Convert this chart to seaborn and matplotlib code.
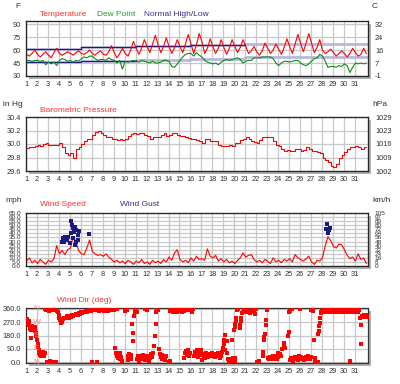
import numpy as np
import pandas as pd
import seaborn as sns
import matplotlib.pyplot as plt
from matplotlib import font_manager
from matplotlib.patches import Rectangle

# === 1. Data ===
days = list(range(1, 32))
day_labels = [str(d) for d in days]
# four readings a day: after midnight, morning low, midday, afternoon high
reading_offsets = [0.05, 0.30, 0.55, 0.80]

temperature_f = [
    55, 53, 56, 60,  55, 52, 55, 58,  54, 51, 57, 62,  56, 54, 56, 58,
    56, 54, 57, 59,  56, 55, 57, 60,  56, 54, 57, 59,  55, 54, 58, 65,
    57, 51, 56, 62,  56, 53, 60, 70,  62, 55, 62, 72,  64, 57, 67, 77,
    66, 57, 64, 74,  64, 56, 63, 72,  64, 57, 67, 78,  67, 56, 66, 79,
    70, 56, 62, 73,  64, 56, 62, 72,  63, 55, 62, 72,  64, 57, 63, 72,
    64, 56, 59, 64,  58, 54, 59, 68,  62, 56, 60, 67,  61, 55, 63, 73,
    64, 56, 67, 78,  68, 58, 68, 79,  68, 57, 63, 72,  60, 56, 58, 61,
    57, 53, 56, 59,  56, 52, 56, 62,  57, 53, 55, 62,  56,
]
dew_point_f = [
    48, 48, 47, 48,  48, 47, 48, 43,  46, 44, 46, 42,  48, 50, 49, 47,
    48, 46, 48, 47,  50, 52, 51, 53,  53, 50, 48, 49,  49, 48, 51, 49,
    48, 45, 48, 38,  47, 46, 47, 48,  47, 46, 48, 47,  46, 45, 47, 45,
    45, 46, 48, 48,  47, 41, 40, 44,  48, 52, 55, 56,  56, 53, 57, 54,
    52, 48, 46, 45,  44, 45, 43, 46,  48, 49, 48, 49,  50, 51, 49, 45,
    47, 48, 48, 51,  51, 51, 52, 52,  52, 52, 50, 45,  42, 45, 47, 47,
    46, 47, 48, 48,  45, 43, 42, 44,  47, 50, 51, 55,  53, 47, 40, 41,
    41, 40, 42, 41,  44, 42, 34, 40,  45, 44, 45, 44,  45,
]
normal_days = [1, 6, 11, 16, 21, 26, 32.2]
normal_high_f = [61, 63, 64.5, 66, 66.5, 66.5, 66.5]
normal_low_f = [46, 47, 48.5, 50, 51.5, 51.5, 51.5]

pressure_inhg = [
    29.94, 29.96, 29.95, 29.97,  29.98, 29.97, 30.00, 30.01,  29.99, 29.98, 29.98, 29.99,
    30.01, 29.96, 29.86, 29.84,  29.86, 29.80, 29.92, 29.96,  30.00, 30.05, 30.08, 30.08,
    30.14, 30.18, 30.20, 30.17,  30.13, 30.10, 30.10, 30.08,  30.08, 30.06, 30.08, 30.06,
    30.08, 30.12, 30.15, 30.16,  30.15, 30.16, 30.16, 30.14,  30.12, 30.08, 30.10, 30.11,
    30.10, 30.14, 30.16, 30.12,  30.13, 30.16, 30.17, 30.13,  30.12, 30.12, 30.10, 30.09,
    30.07, 30.08, 30.06, 30.04,  30.02, 30.08, 30.07, 30.05,  30.05, 30.04, 29.98, 29.97,
    29.97, 29.97, 29.98, 29.97,  30.01, 30.02, 30.06, 30.08,  30.10, 30.07, 30.04, 30.03,
    30.02, 30.06, 30.10, 30.10,  30.11, 30.10, 30.05, 29.98,  29.97, 29.93, 29.90, 29.91,
    29.90, 29.90, 29.93, 29.92,  29.90, 29.91, 29.95, 29.93,  29.90, 29.90, 29.88, 29.87,
    29.80, 29.77, 29.74, 29.67,  29.66, 29.70, 29.80, 29.83,  29.88, 29.92, 29.95, 29.96,
    29.97, 29.95, 29.93, 29.96,  29.96,
]

wind_speed_mph = [
    6, 10, 4, 7,  3, 8, 5, 2,  7, 5, 9, 25,  15, 19, 14, 20,
    22, 36, 30, 19,  15, 14, 22, 32,  18, 15, 13, 14,  12, 15, 11, 8,
    5, 7, 4, 6,  3, 7, 5, 2,  6, 4, 8, 3,  5, 2, 7, 4,
    6, 3, 8, 5,  11, 7, 16, 20,  8, 5, 7, 4,  10, 6, 12, 8,
    9, 7, 21, 12,  10, 13, 6, 9,  5, 8, 4, 6,  3, 7, 10, 16,
    11, 13, 14, 8,  5, 7, 4, 8,  6, 3, 10, 5,  7, 4, 8, 6,
    9, 5, 14, 10,  8, 6, 9, 12,  5, 2, 7, 6,  10, 25, 36, 31,
    24, 22, 27, 26,  20, 13, 9, 11,  6, 15, 8, 10,  3,
]
wind_gusts = [
    (4.3, 30), (4.4, 34), (4.5, 29), (4.6, 35), (4.7, 32), (4.85, 36), (5.0, 28),
    (5.1, 40), (5.15, 55), (5.2, 50), (5.3, 46), (5.3, 34), (5.4, 42), (5.45, 26),
    (5.5, 48), (5.6, 44), (5.6, 30), (5.7, 38), (5.75, 32), (5.8, 43), (6.75, 39),
    (28.4, 45), (28.5, 52), (28.55, 41), (28.6, 44), (28.75, 47),
]

wind_dir_obs = [
    (1.0, 285), (1.05, 270), (1.1, 290), (1.15, 275), (1.2, 265), (1.25, 280), (1.3, 250),
    (1.35, 240), (1.4, 225), (1.45, 235), (1.5, 220), (1.55, 245), (1.6, 230), (1.65, 215),
    (1.7, 235), (1.75, 225), (1.8, 240), (1.85, 210), (1.9, 200), (1.5, 165), (1.95, 175),
    (2.0, 150), (2.05, 120), (2.1, 100), (2.15, 85), (2.2, 60), (2.25, 50), (2.3, 70),
    (2.35, 40), (2.4, 55), (2.45, 65), (2.5, 45), (2.55, 70), (2.6, 50), (2.65, 40), (2.7, 60),
    (2.75, 355), (2.8, 350), (2.9, 358), (3.0, 352), (3.1, 345), (3.2, 355), (3.3, 350),
    (3.4, 358), (3.5, 348), (3.6, 355), (3.7, 350), (3.8, 345), (3.9, 335), (4.0, 320),
    (4.05, 300), (4.1, 285), (4.15, 270), (4.2, 262), (4.25, 270), (4.3, 280), (4.4, 290),
    (4.5, 300), (4.6, 295), (4.7, 310), (4.8, 305), (4.9, 300), (5.0, 310), (5.1, 305),
    (5.2, 315), (5.3, 310), (5.4, 320), (5.5, 315), (5.6, 325), (5.7, 320), (5.8, 330),
    (5.9, 325), (6.0, 335), (6.1, 330), (6.2, 335), (6.3, 340), (6.4, 335), (6.5, 345),
    (6.6, 340), (6.7, 345), (6.8, 350), (6.9, 345), (7.0, 350), (7.1, 355), (7.2, 348),
    (7.3, 352), (7.4, 358), (7.5, 350), (7.6, 355), (7.7, 345), (7.8, 358), (7.9, 350),
    (8.0, 355), (8.1, 345), (8.2, 352), (8.3, 358), (8.4, 350), (8.5, 345), (8.6, 355),
    (8.7, 350), (8.8, 358), (8.9, 352), (9.0, 348), (9.1, 355),
    (2.9, 5), (3.1, 0), (3.2, 8), (3.5, 3), (3.75, 5), (7.0, 3), (7.5, 5),
    (9.15, 95), (9.2, 60), (9.3, 45), (9.35, 30), (9.4, 55), (9.5, 40), (9.55, 20),
    (9.6, 65), (9.7, 35), (9.3, 358), (9.8, 10),
    (10.0, 345), (10.1, 355), (10.2, 350),
    (10.3, 15), (10.35, 40), (10.4, 55), (10.5, 35), (10.55, 20), (10.6, 50),
    (10.7, 255), (10.75, 195), (10.8, 140), (10.85, 310), (10.9, 335), (10.95, 350),
    (11.0, 345), (11.05, 355), (11.1, 340),
    (11.15, 20), (11.2, 40), (11.3, 10), (11.4, 30), (11.5, 45), (11.6, 25), (11.7, 50),
    (11.8, 35), (11.9, 15), (12.0, 40), (12.1, 25), (12.2, 10), (12.3, 30), (12.4, 55),
    (12.5, 35), (12.6, 60), (11.9, 358), (12.0, 350),
    (12.7, 110), (12.8, 175), (12.85, 260), (12.9, 340), (12.95, 355), (13.0, 350), (13.05, 358),
    (13.15, 90), (13.2, 55), (13.3, 35), (13.4, 50), (13.45, 20), (13.5, 45), (13.6, 30),
    (13.7, 15), (13.8, 40), (14.0, 5), (14.1, 10),
    (14.1, 345), (14.2, 350), (14.3, 358), (14.4, 340), (14.5, 352), (14.6, 345), (14.7, 355),
    (14.8, 340), (14.9, 350), (15.0, 345), (15.1, 355), (15.2, 340), (15.3, 350), (15.4, 345),
    (15.5, 355), (15.6, 350),
    (15.4, 30), (15.5, 60), (15.6, 75), (15.7, 50), (15.8, 80), (15.9, 40), (16.0, 65),
    (16.0, 350), (16.1, 340), (16.2, 355),
    (16.3, 45), (16.4, 70), (16.5, 55), (16.6, 80), (16.7, 35), (16.8, 60), (16.9, 75), (17.0, 50),
    (17.0, 85), (17.05, 15), (17.1, 55), (17.2, 40), (17.3, 30), (17.4, 60), (17.5, 45),
    (17.6, 35), (17.7, 55), (17.8, 50), (17.9, 40), (18.0, 60), (18.1, 45), (18.2, 35),
    (18.3, 55), (18.4, 40), (18.5, 60), (18.6, 50), (18.7, 30), (18.8, 45),
    (18.9, 70), (19.0, 95), (19.05, 120), (19.1, 150), (19.15, 185), (19.2, 80), (19.3, 60),
    (19.35, 140), (19.4, 20), (19.5, 5), (19.6, 25), (19.7, 15), (19.8, 150), (19.85, 30),
    (19.9, 10), (20.0, 220), (20.05, 240), (20.1, 255), (20.15, 280), (20.2, 300),
    (20.25, 350), (20.3, 358), (20.05, 10), (20.1, 30),
    (20.5, 230), (20.55, 250), (20.6, 275), (20.65, 300),
    (20.7, 330), (20.8, 340), (20.9, 350), (21.0, 335), (21.1, 345), (21.2, 355), (21.3, 340),
    (21.4, 330), (21.5, 345), (21.6, 335), (21.7, 350), (21.8, 340), (21.9, 325), (22.0, 355),
    (22.1, 5), (22.2, 0), (22.3, 10),
    (22.6, 45), (22.65, 70), (22.7, 150), (22.75, 170), (22.8, 190), (22.85, 250), (22.9, 285),
    (22.95, 350), (23.0, 360),
    (23.1, 30), (23.2, 20), (23.3, 35), (23.4, 25), (23.5, 40), (23.6, 20), (23.7, 30),
    (23.8, 45), (23.9, 25), (24.0, 35), (24.0, 60), (24.1, 40), (24.2, 55), (24.3, 45),
    (24.4, 90), (24.5, 110), (24.55, 130), (24.6, 95),
    (24.9, 180), (24.95, 205), (25.0, 335), (25.1, 345), (25.2, 355), (25.3, 360),
    (25.1, 15), (25.2, 30), (25.3, 25), (25.4, 10), (25.5, 35), (25.6, 20), (25.7, 30),
    (25.8, 15), (25.9, 40), (26.0, 25), (26.1, 35), (26.2, 20), (26.3, 30), (26.4, 15),
    (26.5, 35), (26.6, 25), (26.7, 40), (26.8, 30), (26.9, 20), (27.0, 35), (26.0, 360),
    (27.0, 350), (27.1, 355), (27.15, 360), (27.2, 345),
    (27.3, 150), (27.35, 30), (27.4, 10), (27.5, 0), (27.6, 5),
    (27.65, 190), (27.7, 210), (27.75, 245), (27.8, 265), (27.85, 300), (27.9, 330), (27.95, 340),
    (28.0, 345), (28.1, 340), (28.2, 350), (28.3, 345), (28.4, 355), (28.5, 340), (28.6, 350),
    (28.7, 345), (28.8, 340), (28.9, 350), (29.0, 345), (29.1, 335), (29.2, 350), (29.3, 340),
    (29.4, 345), (29.5, 338), (29.6, 350), (29.7, 345), (29.8, 340), (29.9, 350), (30.0, 345),
    (30.1, 340), (30.2, 350), (30.3, 345), (30.4, 338), (30.5, 350), (30.6, 345), (30.7, 340),
    (30.8, 350), (30.9, 355), (31.0, 340), (31.1, 350), (31.2, 345), (31.3, 338), (31.4, 350),
    (30.6, 10),
    (31.5, 300), (31.55, 120), (31.6, 250), (31.65, 310), (31.7, 305), (31.8, 320),
    (31.9, 310), (32.0, 315), (32.1, 305),
]

# axis ticks and the paired right-hand unit labels
temp_ticks = [30, 45, 60, 75, 90]
temp_c_labels = ["-1", "7", "16", "24", "32"]
pres_ticks = [29.6, 29.8, 30.0, 30.2, 30.4]
pres_hpa_labels = ["1002", "1009", "1016", "1023", "1029"]
wind_ticks = [0, 5, 10, 15, 20, 25, 30, 35, 40, 45, 50, 55, 60, 65]
wind_kmh_labels = ["0", "8", "16", "24", "32", "40", "48", "56", "64", "72", "80", "89", "97", "105"]
dir_ticks = [0, 90, 180, 270, 360]
compass_labels = ["N", "E", "S", "W", "N"]

RED = "#ff0000"
GREEN = "#128a12"
NAVY = "#1a1a80"
LAVENDER = "#b8b8dc"
GRID = "#c8c8c8"
TEXT = "#303030"
W, H = 400, 384

sns.set_style("white")
names = {f.name for f in font_manager.fontManager.ttflist}
TICK_FONT = "Liberation Sans Narrow" if "Liberation Sans Narrow" in names else "Liberation Sans"
plt.rcParams["font.family"] = ["Liberation Sans", "DejaVu Sans"]
TICK_SIZE = 6.3 if TICK_FONT == "Liberation Sans Narrow" else 5.3

# reading times (day of month) for the 4-a-day series
times = (np.array(days + [32])[:, None] + np.array(reading_offsets)).ravel()[:len(temperature_f)]
series = pd.DataFrame({
    "time": times,
    "temp": temperature_f,
    "dew": dew_point_f,
    "pressure": pressure_inhg,
    "wind": wind_speed_mph,
})
normals = pd.DataFrame({"day": normal_days, "high": normal_high_f, "low": normal_low_f})
gusts = pd.DataFrame(wind_gusts, columns=["day", "mph"])
wind_dir = pd.DataFrame(wind_dir_obs, columns=["day", "deg"])


def make_axes(fig, top, bottom):
    ax = fig.add_axes([26 / W, 1 - bottom / H, 342 / W, (bottom - top) / H])
    # grey drop shadow behind the plot box
    fig.patches.append(Rectangle((29 / W, 1 - (bottom + 3) / H), 342 / W, (bottom - top) / H,
                                 transform=fig.transFigure, facecolor="#b0b0b0",
                                 edgecolor="none", zorder=-1))
    ax.set_facecolor("white")
    ax.set_axisbelow(True)
    ax.grid(True, color=GRID, linewidth=0.9)
    for sp in ax.spines.values():
        sp.set_color("#333333")
        sp.set_linewidth(0.9)
    ax.set_xlim(1, 32.2)
    ax.set_xticks(days)
    ax.set_xticklabels(day_labels)
    ax.tick_params(length=0, pad=3.5, labelsize=TICK_SIZE, labelcolor=TEXT)
    for lab in ax.get_xticklabels() + ax.get_yticklabels():
        lab.set_family(TICK_FONT)
    return ax


def set_left_labels(ax, ticks, labels, size=TICK_SIZE):
    ax.set_yticks(ticks)
    ax.set_yticklabels(labels, family=TICK_FONT, fontsize=size)
    ax.set_xlabel("")
    ax.set_ylabel("")


def right_labels(ax, ticks, labels, size=TICK_SIZE):
    twin = ax.twinx()
    twin.set_ylim(ax.get_ylim())
    twin.set_yticks(ticks)
    twin.set_yticklabels(labels, family=TICK_FONT)
    twin.tick_params(length=0, pad=5, labelsize=size, labelcolor=TEXT)
    twin.grid(False)


def fig_text(fig, x, y, s, color=TEXT, size=6, ha="left"):
    fig.text(x / W, 1 - y / H, s, color=color, fontsize=size, ha=ha, va="center",
             family=["Liberation Sans", "DejaVu Sans"])


fig = plt.figure(figsize=(4, 3.84), dpi=100)

# === 2. Temperature / dew point / normals ===
ax1 = make_axes(fig, 21, 76)
sns.lineplot(data=normals, x="day", y="high", ax=ax1, color=LAVENDER, lw=2.0, drawstyle="steps-post", estimator=None)
sns.lineplot(data=normals, x="day", y="low", ax=ax1, color=LAVENDER, lw=2.0, drawstyle="steps-post", estimator=None)
sns.lineplot(data=normals.iloc[:5], x="day", y="high", ax=ax1, color=NAVY, lw=0.8, drawstyle="steps-post", estimator=None)
sns.lineplot(data=normals.iloc[:3], x="day", y="low", ax=ax1, color=NAVY, lw=0.8, drawstyle="steps-post", estimator=None)
sns.lineplot(data=series, x="time", y="dew", ax=ax1, color=GREEN, lw=0.8, estimator=None)
sns.lineplot(data=series, x="time", y="temp", ax=ax1, color=RED, lw=0.8, estimator=None)
ax1.set_ylim(30, 93.5)
set_left_labels(ax1, temp_ticks, [str(t) for t in temp_ticks])
right_labels(ax1, temp_ticks, temp_c_labels)
fig_text(fig, 18, 6, "F", ha="center")
fig_text(fig, 372, 7, "C")
fig_text(fig, 40, 14, "Temperature", color="#ff3030")
fig_text(fig, 97, 14, "Dew Point", color="#2a9a2a")
fig_text(fig, 144, 14, "Normal High/Low", color="#303090")

# === 3. Barometric pressure ===
ax2 = make_axes(fig, 117, 171)
sns.lineplot(data=series, x="time", y="pressure", ax=ax2, color=RED, lw=0.8,
             drawstyle="steps-post", estimator=None)
ax2.set_ylim(29.6, 30.4)
set_left_labels(ax2, pres_ticks, [f"{p:.1f}" for p in pres_ticks])
right_labels(ax2, pres_ticks, pres_hpa_labels)
fig_text(fig, 3, 104, "in Hg")
fig_text(fig, 372, 105, "hPa")
fig_text(fig, 40, 110, "Barometric Pressure", color="#ff3030")

# === 4. Wind speed and gusts (crowded 5 mph ticks, as in the original) ===
ax3 = make_axes(fig, 213, 266)
sns.lineplot(data=series, x="time", y="wind", ax=ax3, color=RED, lw=0.8, estimator=None)
sns.scatterplot(data=gusts, x="day", y="mph", ax=ax3, color=NAVY, marker="s", s=9,
                linewidth=0, zorder=3)
ax3.set_ylim(0, 65)
set_left_labels(ax3, wind_ticks, [f"{w:.1f}" for w in wind_ticks], size=4.6)
right_labels(ax3, wind_ticks, wind_kmh_labels, size=4.6)
fig_text(fig, 5, 200, "mph")
fig_text(fig, 372, 200, "km/h")
fig_text(fig, 40, 205, "Wind Speed", color="#ff3030")
fig_text(fig, 120, 205, "Wind Gust", color="#303090")

# === 5. Wind direction ===
ax4 = make_axes(fig, 308, 363)
sns.scatterplot(data=wind_dir, x="day", y="deg", ax=ax4, color=RED, marker="s", s=9,
                linewidth=0, zorder=3)
ax4.set_ylim(-4, 364)
set_left_labels(ax4, dir_ticks, [f"{d:.1f}" for d in dir_ticks])
for deg, letter in zip(dir_ticks, compass_labels):
    ax4.text(1.95, deg, letter, color="#ff8080", fontsize=6, ha="center", va="center", zorder=4)
fig_text(fig, 57, 300, "Wind Dir (deg)", color="#ff3030")

fig.savefig("out.png", dpi=100)
plt.close(fig)
print("[OK] chart saved -> out.png")
